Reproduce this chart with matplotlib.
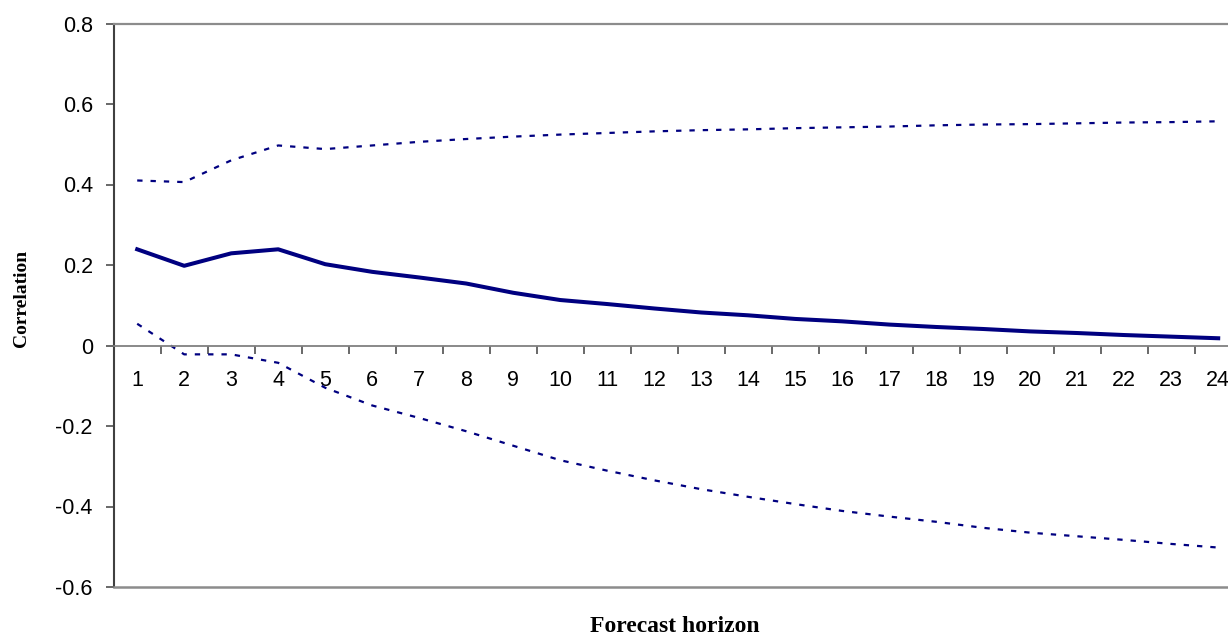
import matplotlib.pyplot as plt
import numpy as np

# data
horizon = list(range(1, 25))
corr = [0.239, 0.198, 0.229, 0.239, 0.202, 0.183, 0.169, 0.154, 0.131, 0.113,
        0.103, 0.092, 0.082, 0.075, 0.066, 0.060, 0.052, 0.046, 0.041, 0.035,
        0.031, 0.026, 0.022, 0.018]
upper = [0.410, 0.406, 0.460, 0.497, 0.488, 0.497, 0.506, 0.513, 0.519, 0.524,
         0.528, 0.532, 0.535, 0.537, 0.540, 0.542, 0.544, 0.547, 0.549, 0.550,
         0.552, 0.554, 0.555, 0.557]
lower = [0.054, -0.022, -0.022, -0.043, -0.105, -0.149, -0.180, -0.213, -0.249, -0.285,
         -0.311, -0.335, -0.357, -0.376, -0.394, -0.411, -0.425, -0.438, -0.453, -0.465,
         -0.474, -0.483, -0.493, -0.502]
yticks = [-0.6, -0.4, -0.2, 0, 0.2, 0.4, 0.6, 0.8]
ytick_labels = ["-0.6", "-0.4", "-0.2", "0", "0.2", "0.4", "0.6", "0.8"]


def main() -> None:
    W, H = 1228, 637
    fig = plt.figure(figsize=(W / 100, H / 100), dpi=100)
    fig.set_facecolor("white")
    # plot area runs past the right edge of the picture, as in the reference
    left, right, top, bottom = 113.7, 1241.7, 23.5, 587.0
    ax = fig.add_axes([left / W, 1 - bottom / H, (right - left) / W, (bottom - top) / H])

    navy = "#000080"
    x = np.array(horizon)
    ax.plot(x, upper, color=navy, lw=1.6, linestyle=(0, (2.4, 3.6)))
    ax.plot(x, lower, color=navy, lw=1.6, linestyle=(0, (2.4, 3.6)))
    ax.plot(x, corr, color=navy, lw=2.9, solid_joinstyle="round")

    ax.set_xlim(0.5, 24.5)
    ax.set_ylim(-0.6, 0.8)

    # spines: x axis sits at zero, frame in grey
    ax.spines["right"].set_visible(False)
    ax.spines["top"].set_color("#8c8c8c")
    ax.spines["top"].set_linewidth(1.6)
    ax.spines["left"].set_color("#404040")
    ax.spines["left"].set_linewidth(1.5)
    ax.spines["bottom"].set_position(("data", 0))
    ax.spines["bottom"].set_color("#808080")
    ax.spines["bottom"].set_linewidth(1.3)
    ax.axhline(-0.6, color="#8c8c8c", lw=1.8, clip_on=False, zorder=3)

    ax.set_xticks(x)
    ax.set_xticklabels([str(h) for h in horizon])
    ax.set_xticks(np.arange(1.5, 24.5, 1.0), minor=True)
    ax.tick_params(axis="x", which="major", length=0, pad=18, labelsize=15.5)
    ax.tick_params(axis="x", which="minor", length=6, width=1.1, color="#404040", direction="out")

    ax.set_yticks(yticks)
    ax.set_yticklabels(ytick_labels)
    ax.tick_params(axis="y", length=6, width=1.1, color="#404040", pad=9, labelsize=15.5)

    for lab in ax.get_xticklabels() + ax.get_yticklabels():
        lab.set_fontfamily("Liberation Sans")

    fig.text(22 / W, 1 - 298 / H, "Correlation", rotation=90, ha="center", va="center",
             family="Liberation Serif", fontweight="bold", fontsize=14)
    fig.text(675 / W, 1 - 627 / H, "Forecast horizon", ha="center", va="center",
             family="Liberation Serif", fontweight="bold", fontsize=17)

    fig.savefig("out.png", dpi=100, facecolor="white")
    plt.close(fig)


if __name__ == "__main__":
    main()
